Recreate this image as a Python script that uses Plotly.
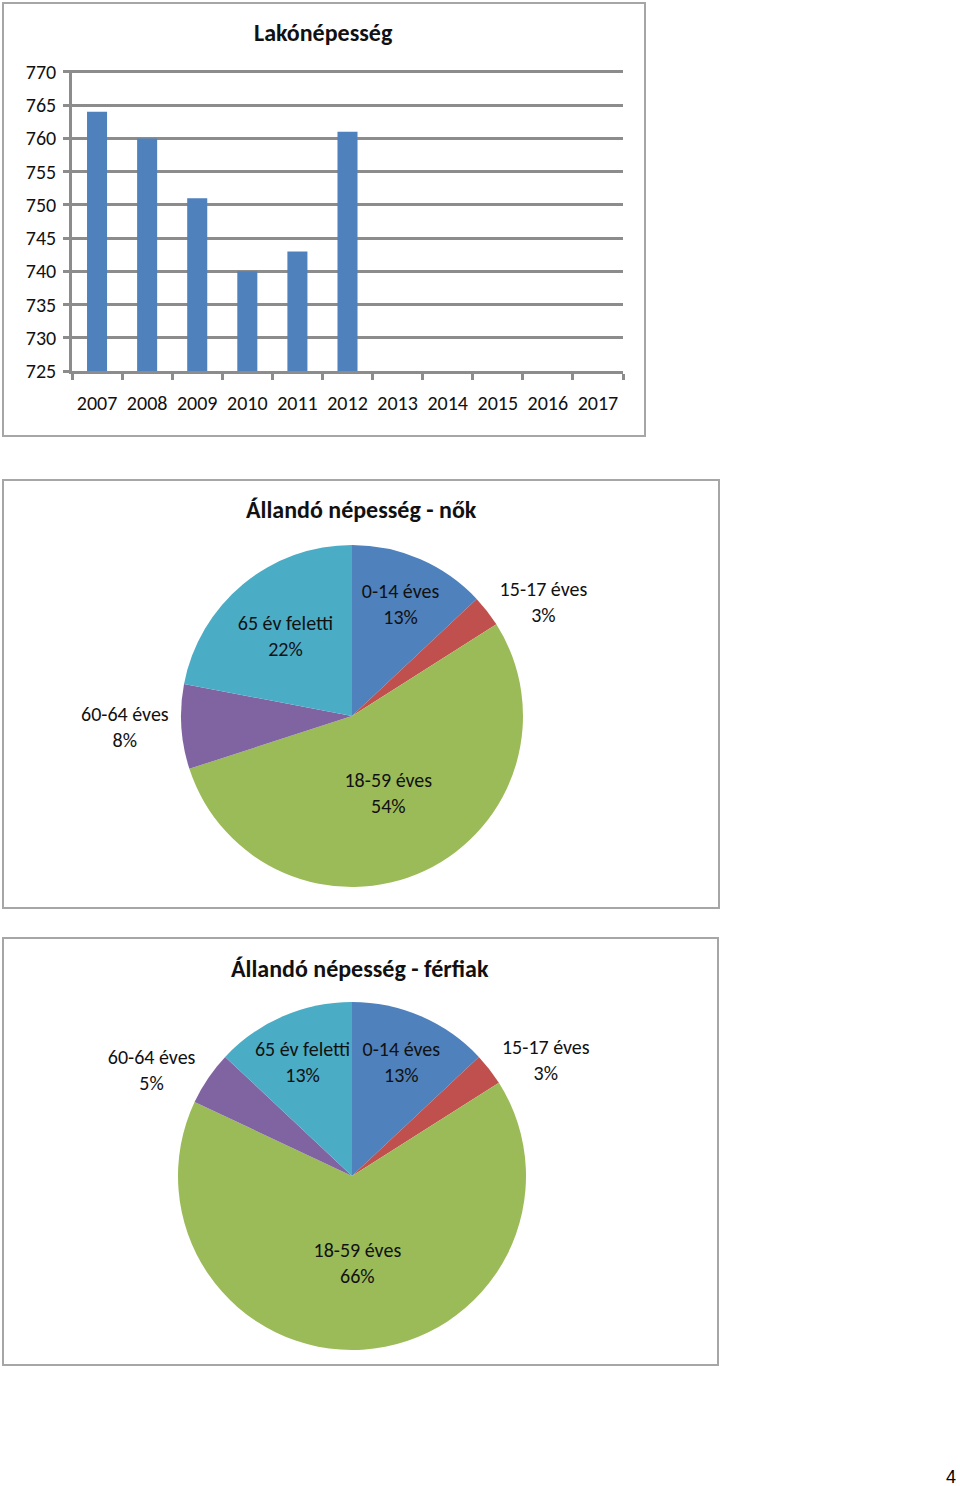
import plotly.graph_objects as go

# ---- data ----
years = ["2007", "2008", "2009", "2010", "2011", "2012", "2013", "2014", "2015", "2016", "2017"]
population = [764, 760, 751, 740, 743, 761, None, None, None, None, None]

age_groups = ["0-14 éves", "15-17 éves", "18-59 éves", "60-64 éves", "65 év feletti"]
women_pct = [13, 3, 54, 8, 22]
men_pct = [13, 3, 66, 5, 13]

slice_colors = ["#4F81BD", "#C0504D", "#9BBB59", "#8064A2", "#4BACC6"]
women_textpos = ["inside", "outside", "inside", "outside", "inside"]
men_textpos = ["inside", "outside", "inside", "outside", "inside"]

W, H = 960, 1486
FONT = "Carlito, Lato, 'Open Sans', sans-serif"
GRID = "#8C8C8C"
TXT = "#111111"


def px(x):
    return x / W


def py(y):
    return 1 - y / H


fig = go.Figure()

fig.add_trace(go.Bar(
    x=years, y=population, marker=dict(color="#4F81BD", line=dict(width=0)),
    width=0.4, xaxis="x", yaxis="y", showlegend=False, hoverinfo="x+y",
))

fig.add_trace(go.Pie(
    labels=age_groups, values=women_pct, sort=False, direction="clockwise", rotation=0,
    marker=dict(colors=slice_colors, line=dict(width=0)),
    textinfo="label+percent", texttemplate="%{label}<br>%{percent:.0%}",
    textposition=women_textpos, insidetextorientation="horizontal",
    textfont=dict(family=FONT, size=20, color=TXT),
    domain=dict(x=[px(181), px(523)], y=[py(887), py(545)]),
    showlegend=False, automargin=False,
))

fig.add_trace(go.Pie(
    labels=age_groups, values=men_pct, sort=False, direction="clockwise", rotation=0,
    marker=dict(colors=slice_colors, line=dict(width=0)),
    textinfo="label+percent", texttemplate="%{label}<br>%{percent:.0%}",
    textposition=men_textpos, insidetextorientation="horizontal",
    textfont=dict(family=FONT, size=20, color=TXT),
    domain=dict(x=[px(178), px(526)], y=[py(1350), py(1002)]),
    showlegend=False, automargin=False,
))

fig.update_layout(
    width=W, height=H, margin=dict(l=0, r=0, t=0, b=0, autoexpand=False),
    paper_bgcolor="white", plot_bgcolor="white", showlegend=False,
    font=dict(family=FONT, size=20, color=TXT),
    uniformtext=dict(minsize=20, mode="show"),
    xaxis=dict(
        domain=[px(72), px(623)], anchor="y", type="category",
        categoryorder="array", categoryarray=years, automargin=False,
        showline=True, linecolor=GRID, linewidth=2.5,
        ticks="outside", tickson="boundaries", ticklen=6, tickwidth=2.5, tickcolor=GRID,
        showgrid=False, ticklabelstandoff=12, tickangle=0,
        tickfont=dict(family=FONT, size=20, color=TXT), fixedrange=True,
    ),
    yaxis=dict(
        domain=[py(371), py(70)], anchor="x", range=[725, 770.3], dtick=5, tick0=725,
        automargin=False,
        showline=True, linecolor=GRID, linewidth=2.5,
        ticks="outside", ticklen=6, tickwidth=2.5, tickcolor=GRID,
        showgrid=True, gridcolor=GRID, gridwidth=2.5, zeroline=False,
        ticklabelstandoff=3,
        tickfont=dict(family=FONT, size=20, color=TXT), fixedrange=True,
    ),
)

# chart frames
frames = [(3, 3, 645, 436), (3, 480, 719, 908), (3, 938, 718, 1365)]
for x0, y0, x1, y1 in frames:
    fig.add_shape(type="rect", xref="paper", yref="paper",
                  x0=px(x0), x1=px(x1), y0=py(y1), y1=py(y0),
                  line=dict(color="#A6A6A6", width=2), fillcolor="rgba(0,0,0,0)", layer="below")

titles = [("Lakónépesség", 323, 33), ("Állandó népesség - nők", 361, 510),
          ("Állandó népesség - férfiak", 360, 968)]
for t, x, y in titles:
    fig.add_annotation(text="<b>" + t + "</b>", xref="paper", yref="paper",
                       x=px(x), y=py(y), xanchor="center", yanchor="middle", showarrow=False,
                       font=dict(family=FONT, size=24, color="#111111"))

fig.add_annotation(text="4", xref="paper", yref="paper", x=px(951), y=py(1477),
                   xanchor="center", yanchor="middle", showarrow=False,
                   font=dict(family="Liberation Sans, Arial, sans-serif", size=18, color="#000000"))

fig.write_html("out.html")
